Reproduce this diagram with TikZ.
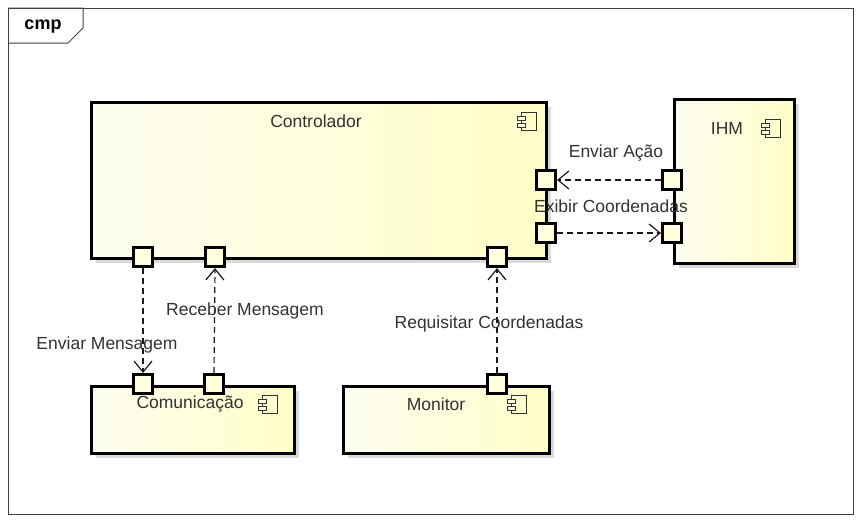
\documentclass[tikz,border=0pt]{standalone}
\usepackage{fontspec}
\setmainfont{Liberation Sans}
\usetikzlibrary{arrows.meta,shadows}
\definecolor{ylL}{RGB}{253,253,240}
\definecolor{ylR}{RGB}{255,255,200}
\definecolor{portfill}{RGB}{255,255,222}
\definecolor{txt}{RGB}{50,50,50}
\begin{document}
\begin{tikzpicture}[x=1pt,y=-1pt,
  font=\fontsize{17.5}{20}\selectfont,
  comp/.style={draw, line width=3pt, left color=ylL, right color=ylR, anchor=north west, inner sep=0pt,
    drop shadow={shadow xshift=4pt, shadow yshift=-4pt, fill=black!15, opacity=1}},
  port/.style={draw, line width=3pt, fill=portfill, minimum size=19pt, inner sep=0pt},
  flow/.style={draw=black!90, line width=1.2pt, dash pattern=on 6pt off 4pt,
    -{Straight Barb[length=11pt,width=18pt,line width=1.2pt]}},
  lbl/.style={text=txt, inner sep=0pt},
  cicon/.pic={
    \draw[line width=0.9pt, black!80] (-6,-9) rectangle (9,9);
    \draw[line width=0.9pt, black!80, fill=portfill] (-10,-5) rectangle (-2,-1);
    \draw[line width=0.9pt, black!80, fill=portfill] (-10,2) rectangle (-2,6);
  }
]
\useasboundingbox (0,0) rectangle (861,522);
% frame
\draw[line width=1pt, black!75] (8,8) rectangle (853,514);
\draw[line width=1pt, black!75] (8,8) -- (83,8) -- (83,28) -- (68,43) -- (8,43);
\node[lbl, font=\fontsize{18}{20}\selectfont\bfseries, text=black] (cmp) at (43,27) {cmp};

% components
\node[comp, minimum width=455pt, minimum height=156pt] (ctrl) at (90,101) {};
\node[comp, minimum width=120pt, minimum height=164pt] (ihm) at (673,98) {};
\node[comp, minimum width=203pt, minimum height=67pt] (com) at (90,385) {};
\node[comp, minimum width=206pt, minimum height=67pt] (mon) at (342,385) {};

\node[lbl] (tctrl) at (316,121) {Controlador};
\node[lbl] (tihm) at (727,128) {IHM};
\node[lbl] (tcom) at (190,404) {Comunicação};
\node[lbl] (tmon) at (436,404) {Monitor};

\pic at (527,121) {cicon};
\pic at (771,128) {cicon};
\pic at (268,404) {cicon};
\pic at (517,404) {cicon};

% ports
\node[port] (cr1) at (546,180) {};
\node[port] (cr2) at (546,233) {};
\node[port] (cb1) at (143,257) {};
\node[port] (cb2) at (215,257) {};
\node[port] (cb3) at (497,257) {};
\node[port] (ih1) at (672,180) {};
\node[port] (ih2) at (672,233) {};
\node[port] (cm1) at (143,384) {};
\node[port] (cm2) at (214,384) {};
\node[port] (mn1) at (497,384) {};

% connectors
\draw[flow] (ih1.west) -- (cr1.east);
\draw[flow] (cr2.east) -- (ih2.west);
\draw[flow] (cb1.south) -- (cm1.north);
\draw[flow] (cm2.north) -- (cb2.south);
\draw[flow] (mn1.north) -- (cb3.south);

% labels
\node[lbl] (l1) at (616,153) {Enviar Ação};
\node[lbl] (l2) at (611,206) {Exibir Coordenadas};
\node[lbl] (l3) at (245,311) {Receber Mensagem};
\node[lbl] (l4) at (107,345) {Enviar Mensagem};
\node[lbl] (l5) at (489,324) {Requisitar Coordenadas};
\end{tikzpicture}
\end{document}
